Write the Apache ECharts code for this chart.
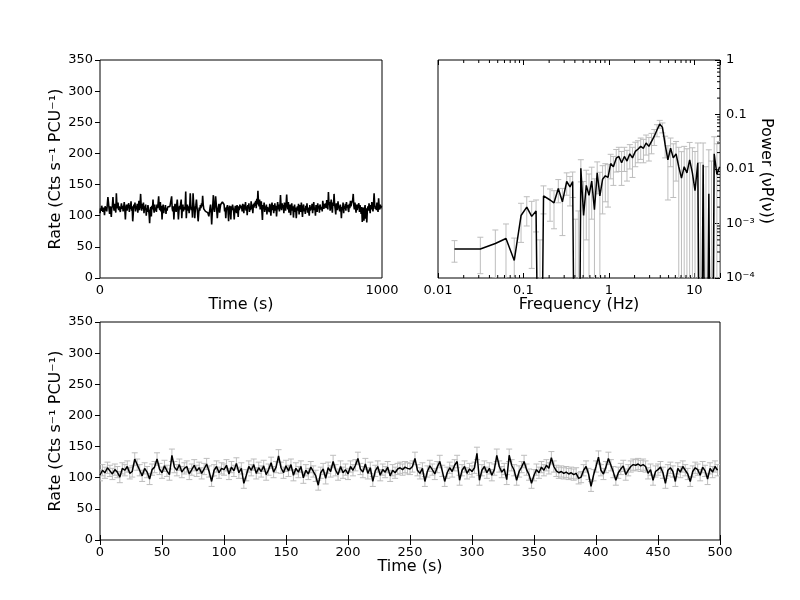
<!DOCTYPE html>
<html><head><meta charset="utf-8">
<script src="https://cdn.jsdelivr.net/npm/echarts@6/dist/echarts.min.js"></script>
<style>html,body{margin:0;padding:0;background:#fff}#c{width:800px;height:600px}</style>
</head><body><div id="c"></div>
<script>
// ---------------- DATA ----------------
const binSize = 2; // seconds per light-curve bin
// count rate (Cts s^-1 PCU^-1), 2 s bins, 0 - 1000 s
const rate = [
104,112,108,116,111,106,113,109,101,115,112,118,107,110,130,121,112,103,115,109,98,113,117,130,114,
108,119,111,105,136,117,112,121,109,115,118,106,113,120,111,116,107,114,122,110,94,112,118,108,115,
113,120,106,117,111,123,108,115,91,104,118,112,121,107,116,110,119,105,113,124,109,117,135,116,108,
119,111,121,104,115,109,118,100,112,106,117,110,103,88,108,114,99,116,110,126,112,105,118,108,113,
106,118,112,120,131,114,109,122,107,116,94,111,118,104,113,109,117,103,112,108,114,116,113,117,115,
114,118,131,112,107,115,94,110,119,113,106,117,126,111,94,108,116,110,120,126,96,112,118,107,114,
110,116,139,96,112,118,108,115,104,113,136,118,109,114,97,136,120,112,96,110,117,126,113,105,91,
104,113,108,117,112,120,115,132,118,111,108,110,107,109,106,108,105,107,99,101,112,118,106,86,104,
118,133,112,106,117,131,120,109,96,108,114,119,105,112,118,121,120,122,119,121,118,107,113,96,110,
113,117,108,91,112,116,110,94,115,109,118,112,106,94,110,116,113,104,117,111,98,115,109,118,112,
111,116,107,119,113,104,118,110,122,108,115,101,117,112,120,106,114,109,123,111,117,104,119,113,121,
116,124,112,127,118,140,121,115,126,110,119,123,108,93,117,112,121,106,115,109,118,102,114,111,117,
106,119,112,100,115,121,109,117,104,113,120,108,116,99,112,122,110,118,107,114,133,115,109,120,112,
117,104,121,113,108,119,134,116,110,122,105,114,118,101,113,120,108,115,97,111,118,106,113,96,109,
115,108,119,102,113,117,106,121,110,98,114,118,107,112,103,116,109,120,105,113,111,100,117,108,114,
110,119,104,115,122,109,113,100,117,111,106,120,112,116,105,118,121,110,114,107,124,116,111,119,113,
120,112,125,118,110,138,117,122,108,119,126,113,105,121,116,135,118,111,102,120,114,109,123,112,116,
107,118,112,96,114,109,121,104,116,111,119,108,122,113,117,110,106,119,112,124,115,120,118,125,135,
116,110,121,113,105,118,109,115,112,120,106,117,111,103,114,90,108,113,92,110,117,95,112,89,109,
115,108,120,112,104,117,110,122,113,107,119,136,118,111,115,109,121,113,106,128,114,110,118,112,116
];
// 1-sigma errors for the first 500 s (bottom panel)
const rateErr = [
9,9,9,9,9,9,9,9,9,9,9,9,9,9,10,9,9,9,9,9,9,9,9,10,9,
9,9,9,9,10,9,9,9,9,9,9,9,9,9,9,9,9,9,9,9,8,9,9,9,9,
9,9,9,9,9,9,9,9,8,9,9,9,9,9,9,9,9,9,9,9,9,9,10,9,9,
9,9,9,9,9,9,9,9,9,9,9,9,9,8,9,9,9,9,9,10,9,9,9,9,9,
9,9,9,9,10,9,9,9,9,9,8,9,9,9,9,9,9,9,9,9,9,9,9,9,9,
9,9,10,9,9,9,8,9,9,9,9,9,10,9,8,9,9,9,9,10,8,9,9,9,9,
9,9,10,8,9,9,9,9,9,9,10,9,9,9,8,10,9,9,8,9,9,10,9,9,8,
9,9,9,9,9,9,9,10,9,9,9,9,9,9,9,9,9,9,9,9,9,9,9,8,9,
9,10,9,9,9,10,9,9,8,9,9,9,9,9,9,9,9,9,9,9,9,9,9,8,9,
9,9,9,8,9,9,9,8,9,9,9,9,9,8,9,9,9,9,9,9,9,9,9,9,9
];
// power spectrum
const freq = [0.0156,0.0313,0.0469,0.0625,0.0781,0.0938,0.1094,0.125,0.1406,0.1563,0.1719,0.205,0.228,0.256,0.286,0.321,0.351,0.377,0.409,0.439,
0.47,0.506,0.544,0.586,0.630,0.678,0.730,0.785,0.845,0.909,0.978,1.05,1.13,1.22,1.31,1.41,1.52,1.63,1.76,1.89,2.04,2.19,2.36,2.54,2.73,2.94,3.16,3.40,3.66,3.94,
4.24,4.56,4.91,5.28,5.68,6.12,6.58,7.08,7.62,8.20,8.83,9.50,10.2,11.0,11.8,12.7,13.7,14.8,15.9,17.1,18.4,19.8];
const power = [3.4e-4,3.4e-4,4.3e-4,5.3e-4,2.1e-4,1.4e-3,2.0e-3,1.35e-3,1.7e-3,-8e-4,3.2e-3,2.7e-3,2.4e-3,4.4e-3,2.5e-3,5.9e-3,4.7e-3,5.9e-3,-2e-3,-1.5e-3,
0.0103,1.4e-3,5.0e-3,3.3e-3,6.0e-3,1.8e-3,8.5e-3,3.2e-3,6.5e-3,7.5e-3,7.0e-3,0.0126,0.011,0.0158,0.017,0.013,0.017,0.014,0.019,0.016,0.021,0.023,0.026,0.024,0.030,0.026,0.032,0.040,0.052,0.067,
0.058,0.028,0.0147,0.024,0.016,0.019,0.011,0.0068,0.011,0.0085,0.0147,0.0085,0.004,0.013,-0.005,0.012,-0.008,0.0035,-0.006,0.019,0.008,0.011];
const powerErr = [1.45e-4,2.2e-4,3.3e-4,4.5e-4,3.3e-4,9.5e-4,1.1e-3,1.2e-3,1.0e-3,1.3e-3,1.7e-3,1.6e-3,1.6e-3,2.0e-3,1.9e-3,2.6e-3,2.6e-3,2.9e-3,3.2e-3,3.2e-3,
0.0045,0.0045,0.0045,0.0048,0.0048,0.0048,0.005,0.0055,0.005,0.005,0.005,0.006,0.006,0.007,0.008,0.008,0.008,0.008,0.009,0.009,0.010,0.010,0.011,0.011,0.012,0.012,0.013,0.013,0.013,0.011,
0.012,0.012,0.012,0.013,0.013,0.013,0.014,0.014,0.015,0.015,0.016,0.016,0.017,0.017,0.018,0.018,0.019,0.019,0.02,0.02,0.021,0.021];
const freqTickLabels = {'-2':'0.01','-1':'0.1','0':'1','1':'10'};
const powerTickLabels = {'-4':'10\u207B\u2074','-3':'10\u207B\u00B3','-2':'0.01','-1':'0.1','0':'1'};
const rateTitle = 'Rate (Cts s\u207B\u00B9 PCU\u207B\u00B9)';
const powerTitle = 'Power (\u03BDP(\u03BD))';

// ---------------- CHART ----------------
const FONT = 'DejaVu Sans';
const errColor = '#bdbdbd';
const time = rate.map((_, i) => i * binSize);
const lcFull = rate.map((v, i) => [time[i], v]);
const lcZoom = [], lcZoomErr = [];
for (let i = 0; i < rate.length; i++) {
  if (time[i] < 500) { lcZoom.push([time[i], rate[i]]); lcZoomErr.push([time[i], rate[i] - rateErr[i], rate[i] + rateErr[i]]); }
}
const psdLine = freq.map((f, i) => [f, power[i] > 0 ? power[i] : 1e-9]);
const psdErr = freq.map((f, i) => [f, power[i] - powerErr[i], power[i] + powerErr[i]]);

const freqMinor = [], powMinor = [];
for (let k = -2; k <= 1; k++) for (let m = 2; m <= 9; m++) { const v = m * Math.pow(10, k); if (v < 20) freqMinor.push([v, 0.01]); }
for (let k = -4; k <= -1; k++) for (let m = 2; m <= 9; m++) powMinor.push([1, m * Math.pow(10, k)]);

function logLabel(map) {
  return function (v) {
    const l = Math.log10(v), e = Math.round(l);
    if (Math.abs(l - e) > 1e-6) return '';
    return map[String(e)] || '';
  };
}
const plain = (v) => String(v);
function makeErrRender(capHalf, logY) {
  return function (params, api) {
    const x = api.value(0), lo = api.value(1), hi = api.value(2);
    const cs = params.coordSys;
    const top = api.coord([x, hi]);
    let loY, loCap = true;
    if (logY && lo <= 0) { loY = cs.y + cs.height + 3; loCap = false; }
    else loY = api.coord([x, lo])[1];
    const px = top[0];
    const st = { stroke: errColor, lineWidth: 1 };
    const ch = [
      { type: 'line', shape: { x1: px, y1: top[1], x2: px, y2: loY }, style: st },
      { type: 'line', shape: { x1: px - capHalf, y1: top[1], x2: px + capHalf, y2: top[1] }, style: st }
    ];
    if (loCap) ch.push({ type: 'line', shape: { x1: px - capHalf, y1: loY, x2: px + capHalf, y2: loY }, style: st });
    return { type: 'group', children: ch };
  };
}
const lbl = { fontFamily: FONT, fontSize: 13, color: '#000' };
const tickIn = (len) => ({ show: true, inside: true, length: len, lineStyle: { color: '#000', width: 1 } });
const hidden = { show: false };
const gridStyle = { show: true, borderColor: '#000', borderWidth: 1, backgroundColor: 'transparent' };

const option = {
  animation: false,
  backgroundColor: '#fff',
  grid: [
    Object.assign({ left: 100, top: 60, width: 282, height: 218 }, gridStyle),
    Object.assign({ left: 438, top: 60, width: 282, height: 218 }, gridStyle),
    Object.assign({ left: 100, top: 322, width: 620, height: 218 }, gridStyle)
  ],
  xAxis: [
    { gridIndex: 0, type: 'value', min: 0, max: 1000, interval: 1000, position: 'bottom', axisLine: hidden, axisTick: hidden, splitLine: hidden, axisLabel: Object.assign({ margin: 6, formatter: plain }, lbl) },
    { gridIndex: 0, type: 'value', min: 0, max: 1000, interval: 1000, position: 'top', axisLine: hidden, axisTick: hidden, splitLine: hidden, axisLabel: hidden },
    { gridIndex: 1, type: 'log', logBase: 10, min: 0.01, max: 20, position: 'bottom', axisLine: hidden, axisTick: tickIn(5), splitLine: hidden, axisLabel: Object.assign({ margin: 6, formatter: logLabel(freqTickLabels) }, lbl) },
    { gridIndex: 1, type: 'log', logBase: 10, min: 0.01, max: 20, position: 'top', axisLine: hidden, axisTick: tickIn(5), splitLine: hidden, axisLabel: hidden },
    { gridIndex: 2, type: 'value', min: 0, max: 500, interval: 50, position: 'bottom', axisLine: hidden, axisTick: tickIn(5), splitLine: hidden, axisLabel: Object.assign({ margin: 6, formatter: plain }, lbl) },
    { gridIndex: 2, type: 'value', min: 0, max: 500, interval: 50, position: 'top', axisLine: hidden, axisTick: tickIn(5), splitLine: hidden, axisLabel: hidden }
  ],
  yAxis: [
    { gridIndex: 0, type: 'value', min: 0, max: 350, interval: 50, position: 'left', axisLine: hidden, axisTick: hidden, splitLine: hidden, axisLabel: Object.assign({ margin: 7, formatter: plain }, lbl) },
    { gridIndex: 0, type: 'value', min: 0, max: 350, interval: 50, position: 'right', axisLine: hidden, axisTick: tickIn(5), splitLine: hidden, axisLabel: hidden },
    { gridIndex: 1, type: 'log', logBase: 10, min: 1e-4, max: 1, position: 'right', axisLine: hidden, axisTick: tickIn(5), splitLine: hidden, axisLabel: Object.assign({ margin: 6, formatter: logLabel(powerTickLabels) }, lbl) },
    { gridIndex: 2, type: 'value', min: 0, max: 350, interval: 50, position: 'left', axisLine: hidden, axisTick: hidden, splitLine: hidden, axisLabel: Object.assign({ margin: 7, formatter: plain }, lbl) },
    { gridIndex: 2, type: 'value', min: 0, max: 350, interval: 50, position: 'right', axisLine: hidden, axisTick: tickIn(5), splitLine: hidden, axisLabel: hidden }
  ],
  series: [
    { type: 'line', xAxisIndex: 0, yAxisIndex: 0, data: lcFull, symbol: 'none', lineStyle: { color: '#000', width: 1.6 }, z: 3, clip: true },
    { type: 'custom', xAxisIndex: 2, yAxisIndex: 2, data: psdErr, encode: { x: 0, y: 2 }, renderItem: makeErrRender(3, true), clip: true, z: 2 },
    { type: 'line', xAxisIndex: 2, yAxisIndex: 2, data: psdLine, symbol: 'none', lineStyle: { color: '#000', width: 1.5 }, z: 3, clip: true },
    { type: 'custom', xAxisIndex: 2, yAxisIndex: 2, data: freqMinor, encode: { x: 0, y: 1 }, z: 4, silent: true,
      renderItem: function (params, api) {
        const cs = params.coordSys; const px = api.coord([api.value(0), 0.01])[0];
        const st = { stroke: '#000', lineWidth: 1 };
        return { type: 'group', children: [
          { type: 'line', shape: { x1: px, y1: cs.y + cs.height, x2: px, y2: cs.y + cs.height - 3 }, style: st },
          { type: 'line', shape: { x1: px, y1: cs.y, x2: px, y2: cs.y + 3 }, style: st } ] };
      } },
    { type: 'custom', xAxisIndex: 2, yAxisIndex: 2, data: powMinor, encode: { x: 0, y: 1 }, z: 4, silent: true,
      renderItem: function (params, api) {
        const cs = params.coordSys; const py = api.coord([1, api.value(1)])[1];
        return { type: 'line', shape: { x1: cs.x + cs.width, y1: py, x2: cs.x + cs.width - 3, y2: py }, style: { stroke: '#000', lineWidth: 1 } };
      } },
    { type: 'custom', xAxisIndex: 4, yAxisIndex: 3, data: lcZoomErr, encode: { x: 0, y: [1, 2] }, renderItem: makeErrRender(3, false), clip: true, z: 2 },
    { type: 'line', xAxisIndex: 4, yAxisIndex: 3, data: lcZoom, symbol: 'none', lineStyle: { color: '#000', width: 1.5 }, z: 3, clip: true }
  ],
  graphic: [
    { type: 'text', x: 241, y: 305, style: { text: 'Time (s)', fontFamily: FONT, fontSize: 16, fill: '#000', align: 'center', verticalAlign: 'middle' } },
    { type: 'text', x: 579, y: 305, style: { text: 'Frequency (Hz)', fontFamily: FONT, fontSize: 16, fill: '#000', align: 'center', verticalAlign: 'middle' } },
    { type: 'text', x: 410, y: 567, style: { text: 'Time (s)', fontFamily: FONT, fontSize: 16, fill: '#000', align: 'center', verticalAlign: 'middle' } },
    { type: 'text', x: 56, y: 169, rotation: Math.PI / 2, style: { text: rateTitle, fontFamily: FONT, fontSize: 16, fill: '#000', align: 'center', verticalAlign: 'middle' } },
    { type: 'text', x: 56, y: 431, rotation: Math.PI / 2, style: { text: rateTitle, fontFamily: FONT, fontSize: 16, fill: '#000', align: 'center', verticalAlign: 'middle' } },
    { type: 'text', x: 766, y: 171, rotation: -Math.PI / 2, style: { text: powerTitle, fontFamily: FONT, fontSize: 16, fill: '#000', align: 'center', verticalAlign: 'middle' } }
  ]
};
const chart = echarts.init(document.getElementById('c'), null, { renderer: 'canvas' });
chart.setOption(option);
</script>
</body></html>
